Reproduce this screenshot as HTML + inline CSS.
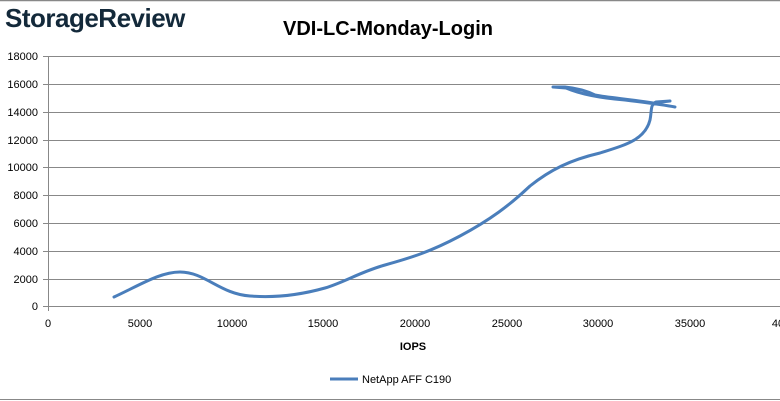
<!DOCTYPE html>
<html><head><style>
body{margin:0;background:#fff;}
svg{display:block;font-family:"Liberation Sans",sans-serif;}
</style></head><body>
<svg width="780" height="401" viewBox="0 0 780 401">
<line x1="0" y1="0.5" x2="780" y2="0.5" stroke="#888" stroke-width="1.5"/>
<line x1="0" y1="399.5" x2="780" y2="399.5" stroke="#888" stroke-width="1"/>
<text x="5" y="27" font-size="26" fill="#13293a" font-weight="bold" letter-spacing="-0.5">StorageReview</text>
<text x="388" y="35" font-size="20" font-weight="bold" text-anchor="middle" fill="#000">VDI-LC-Monday-Login</text>
<g stroke="#888" stroke-width="1">
<line x1="43" y1="56.5" x2="780" y2="56.5"/>
<line x1="43" y1="84.5" x2="780" y2="84.5"/>
<line x1="43" y1="112.5" x2="780" y2="112.5"/>
<line x1="43" y1="140.5" x2="780" y2="140.5"/>
<line x1="43" y1="167.5" x2="780" y2="167.5"/>
<line x1="43" y1="195.5" x2="780" y2="195.5"/>
<line x1="43" y1="223.5" x2="780" y2="223.5"/>
<line x1="43" y1="251.5" x2="780" y2="251.5"/>
<line x1="43" y1="279.5" x2="780" y2="279.5"/>
<line x1="43" y1="306.5" x2="780" y2="306.5"/>
<line x1="48.5" y1="56" x2="48.5" y2="311"/>
</g>
<g font-size="11" fill="#000" text-anchor="end">
<text x="38" y="60">18000</text><text x="38" y="88">16000</text><text x="38" y="116">14000</text>
<text x="38" y="144">12000</text><text x="38" y="171">10000</text><text x="38" y="199">8000</text>
<text x="38" y="227">6000</text><text x="38" y="255">4000</text><text x="38" y="283">2000</text><text x="38" y="310">0</text>
</g>
<g font-size="11" fill="#000" text-anchor="middle">
<text x="48" y="327">0</text><text x="140" y="327">5000</text><text x="232" y="327">10000</text>
<text x="323" y="327">15000</text><text x="415" y="327">20000</text><text x="507" y="327">25000</text>
<text x="598" y="327">30000</text><text x="690" y="327">35000</text><text x="778" y="327">40</text>
</g>
<text x="413" y="350" font-size="11" font-weight="bold" text-anchor="middle">IOPS</text>
<path d="M114,297 C140,285 160,272 180,272 C205,272 220,294 250,296 C275,298 300,295 325,288 C345,282 360,272 385,265 C410,258 430,252 460,236 C490,220 510,205 530,186 C550,170 570,160 600,153 C625,145 645,140 650,120 C652,110 650,105 656,102 L670,101 L653,103 C630,99 610,98 595,95 C585,90 575,88 565,87 L553,87 L566,88 C580,94 600,98 625,100 C650,103 665,105 675,107" fill="none" stroke="#4a7ebb" stroke-width="3" stroke-linejoin="round" stroke-linecap="round"/>
<line x1="330" y1="379" x2="358" y2="379" stroke="#4a7ebb" stroke-width="3"/>
<text x="362" y="383" font-size="11" fill="#000">NetApp AFF C190</text>
</svg>
</body></html>
